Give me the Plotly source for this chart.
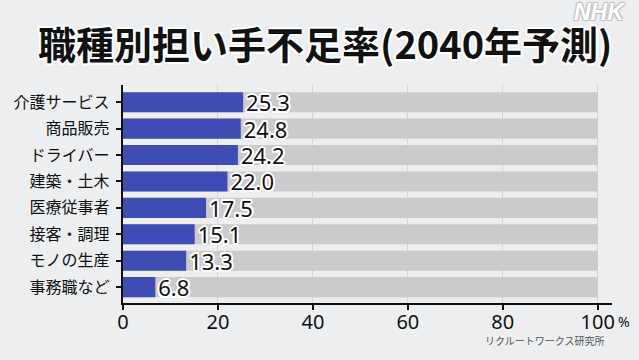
import plotly.graph_objects as go

categories = ["介護サービス", "商品販売", "ドライバー", "建築・土木", "医療従事者", "接客・調理", "モノの生産", "事務職など"]
values = [25.3, 24.8, 24.2, 22.0, 17.5, 15.1, 13.3, 6.8]
full = [100] * len(categories)
x_ticks = [0, 20, 40, 60, 80, 100]

title_text = "職種別担い手不足率(2040年予測)"
source_text = "リクルートワークス研究所"

JP = "Noto Sans CJK JP, Noto Sans, sans-serif"
WHITE_OUTLINE = ("2px 0 0 #fff, -2px 0 0 #fff, 0 2px 0 #fff, 0 -2px 0 #fff, "
                 "1.5px 1.5px 0 #fff, -1.5px -1.5px 0 #fff, 1.5px -1.5px 0 #fff, -1.5px 1.5px 0 #fff")

fig = go.Figure()
fig.add_trace(go.Bar(
    y=categories, x=full, orientation="h", width=0.76,
    marker=dict(color="#cbcbcb", line=dict(width=0)),
    hoverinfo="skip", showlegend=False,
))
fig.add_trace(go.Bar(
    y=categories, x=values, orientation="h", width=0.76,
    marker=dict(color="#3f4cb4", line=dict(width=0)),
    texttemplate="%{x:.1f}", textposition="outside", cliponaxis=False,
    constraintext="none",
    textfont=dict(family="Noto Sans, sans-serif", size=22, color="#111",
                  shadow=WHITE_OUTLINE),
    showlegend=False,
))

fig.update_layout(
    width=639, height=360,
    paper_bgcolor="#eceef0", plot_bgcolor="#eceef0",
    barmode="overlay",
    margin=dict(l=123, r=27, t=85, b=57, autoexpand=False),
    title=dict(text=title_text, x=0.509, xanchor="center", y=0.872, yanchor="middle",
               font=dict(family=JP, size=38, color="#111", weight="bold",
                         shadow=WHITE_OUTLINE)),
    xaxis=dict(range=[0, 103], tickvals=x_ticks, ticks="outside", ticklen=5,
               tickcolor="#111", tickwidth=1.5, automargin=False,
               ticklabelstandoff=-5,
               showline=True, linecolor="#111", linewidth=1.5,
               showgrid=True, gridcolor="#d4d4d4", gridwidth=1, zeroline=False,
               tickfont=dict(family="Noto Sans, sans-serif", size=20, color="#111")),
    yaxis=dict(range=[7.6, -0.65], ticks="outside", ticklen=5, tickcolor="#111",
               tickwidth=1.5, showline=True, linecolor="#111", linewidth=1.5,
               showgrid=False, ticksuffix=" ", automargin=False,
               tickfont=dict(family=JP, size=16, color="#111")),
    annotations=[
        dict(text="%", xref="paper", yref="paper", x=1.008, y=-0.085,
             xanchor="left", yanchor="middle", showarrow=False,
             font=dict(family="Noto Sans, sans-serif", size=14, color="#111")),
        dict(text=source_text, xref="paper", yref="paper", x=0.988, y=-0.17,
             xanchor="right", yanchor="middle", showarrow=False,
             font=dict(family=JP, size=10, color="#555")),
        dict(text="<i><b>NHK</b></i>", xref="paper", yref="paper", x=0.975, y=1.335,
             xanchor="center", yanchor="middle", showarrow=False,
             font=dict(family="Liberation Sans, Arial, sans-serif", size=23, color="#ffffff",
                       shadow="1px 1px 1px #c0c0c0, -1px -1px 1px #c0c0c0, 1px -1px 1px #c0c0c0, -1px 1px 1px #c0c0c0")),
    ],
)

fig.write_html("out.html", config={"displayModeBar": False},
               post_script="document.body.style.margin='0';document.body.style.background='#eceef0';")
